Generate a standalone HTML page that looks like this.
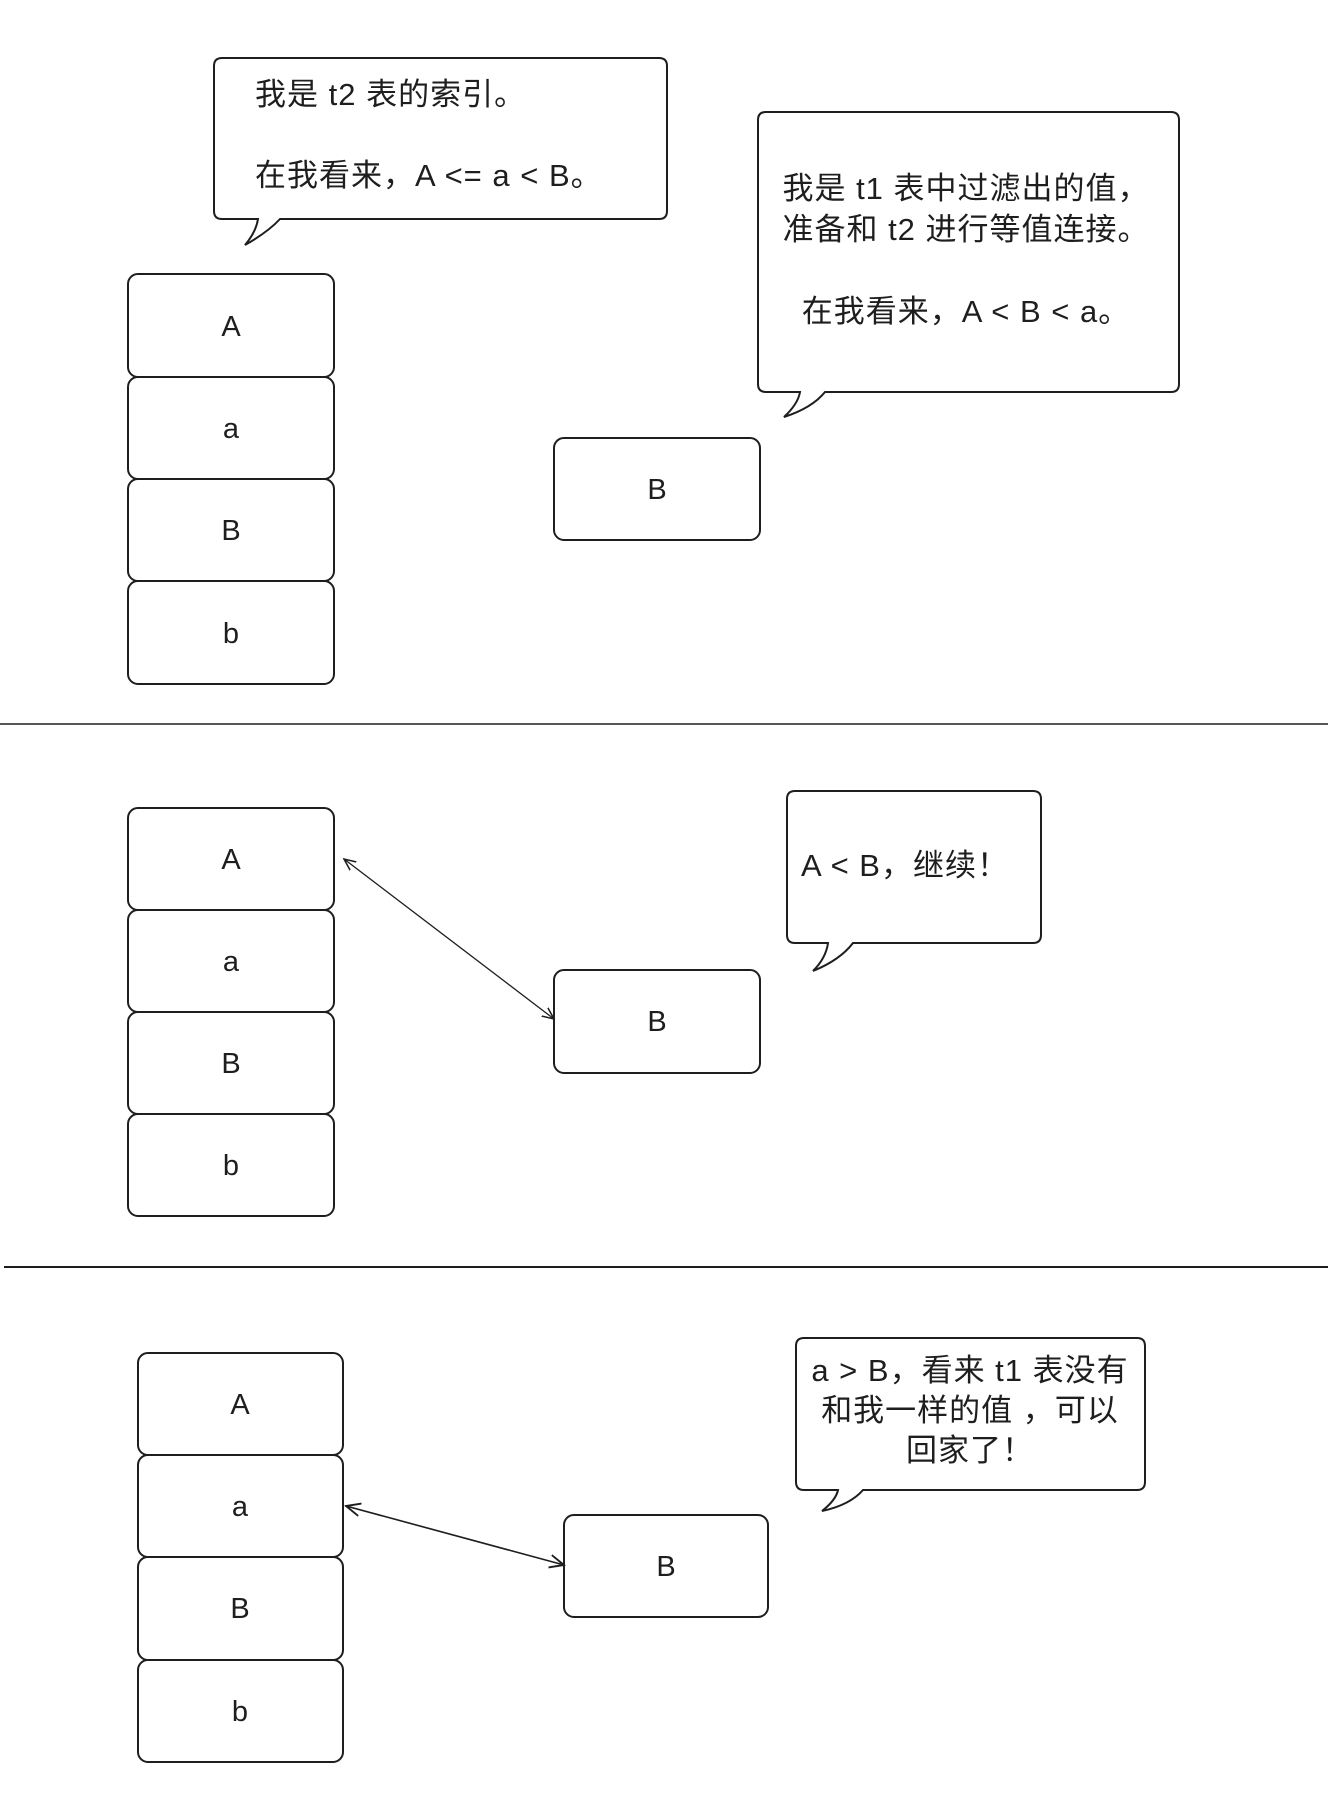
<!DOCTYPE html>
<html><head><meta charset="utf-8"><style>
html,body{margin:0;padding:0;background:#fff;}
svg{display:block;}
text{font-family:"Liberation Sans","Noto Sans CJK SC",sans-serif;fill:#1e1e1e;}
</style></head><body>
<svg width="1332" height="1804" viewBox="0 0 1332 1804" xmlns="http://www.w3.org/2000/svg">
<defs>
<marker id="ah" viewBox="0 0 10 10" refX="9" refY="5" markerWidth="10" markerHeight="10" orient="auto-start-reverse">
<path d="M0,1 L9,5 L0,9" fill="none" stroke="#1e1e1e" stroke-width="1.2"/>
</marker>
</defs>
<g fill="none" stroke="#1e1e1e" stroke-width="2">
<path d="M222,58 L659,58 Q667,58 667,66 L667,211 Q667,219 659,219 L280,219 Q268,232 245,245 Q256,232 258,219 L222,219 Q214,219 214,211 L214,66 Q214,58 222,58 Z"/>
<path d="M766,112 L1171,112 Q1179,112 1179,120 L1179,384 Q1179,392 1171,392 L825,392 Q812,408 784,417 Q798,404 800,392 L766,392 Q758,392 758,384 L758,120 Q758,112 766,112 Z"/>
<rect x="128" y="274" width="206" height="103" rx="10"/>
<rect x="128" y="377" width="206" height="102" rx="10"/>
<rect x="128" y="479" width="206" height="102" rx="10"/>
<rect x="128" y="581" width="206" height="103" rx="10"/>
<rect x="554" y="438" width="206" height="102" rx="10"/>
<line x1="0" y1="724" x2="1328" y2="724" stroke-width="1.5"/>
<rect x="128" y="808" width="206" height="102" rx="10"/>
<rect x="128" y="910" width="206" height="102" rx="10"/>
<rect x="128" y="1012" width="206" height="102" rx="10"/>
<rect x="128" y="1114" width="206" height="102" rx="10"/>
<rect x="554" y="970" width="206" height="103" rx="10"/>
<line x1="344" y1="859" x2="554" y2="1019" stroke-width="1.3" marker-start="url(#ah)" marker-end="url(#ah)"/>
<path d="M795,791 L1033,791 Q1041,791 1041,799 L1041,935 Q1041,943 1033,943 L853,943 Q840,960 813,971 Q826,958 828,943 L795,943 Q787,943 787,935 L787,799 Q787,791 795,791 Z"/>
<line x1="4" y1="1267" x2="1328" y2="1267" stroke-width="2"/>
<rect x="138" y="1353" width="205" height="102" rx="10"/>
<rect x="138" y="1455" width="205" height="102" rx="10"/>
<rect x="138" y="1557" width="205" height="103" rx="10"/>
<rect x="138" y="1660" width="205" height="102" rx="10"/>
<rect x="564" y="1515" width="204" height="102" rx="10"/>
<line x1="346" y1="1506" x2="564" y2="1565" stroke-width="1.6" marker-start="url(#ah)" marker-end="url(#ah)"/>
<path d="M804,1338 L1137,1338 Q1145,1338 1145,1346 L1145,1482 Q1145,1490 1137,1490 L863,1490 Q850,1505 822,1511 Q836,1500 838,1490 L804,1490 Q796,1490 796,1482 L796,1346 Q796,1338 804,1338 Z"/>
</g>
<g font-size="31" letter-spacing="1">
<text x="255" y="105">我是 t2 表的索引。</text>
<text x="255" y="186">在我看来，A &lt;= a &lt; B。</text>
<g text-anchor="middle">
<text x="966" y="199">我是 t1 表中过滤出的值，</text>
<text x="966" y="240">准备和 t2 进行等值连接。</text>
<text x="966" y="322">在我看来，A &lt; B &lt; a。</text>
<text x="970" y="1381">a &gt; B，看来 t1 表没有</text>
<text x="970" y="1421">和我一样的值 ，可以</text>
<text x="970" y="1461">回家了！</text>
</g>
<text x="801" y="876">A &lt; B，继续！</text>
</g>
<g font-size="29" text-anchor="middle">
<text x="231" y="336">A</text><text x="231" y="438">a</text><text x="231" y="540">B</text><text x="231" y="643">b</text>
<text x="657" y="499">B</text>
<text x="231" y="869">A</text><text x="231" y="971">a</text><text x="231" y="1073">B</text><text x="231" y="1175">b</text>
<text x="657" y="1031">B</text>
<text x="240" y="1414">A</text><text x="240" y="1516">a</text><text x="240" y="1618">B</text><text x="240" y="1721">b</text>
<text x="666" y="1576">B</text>
</g>
</svg>
</body></html>
